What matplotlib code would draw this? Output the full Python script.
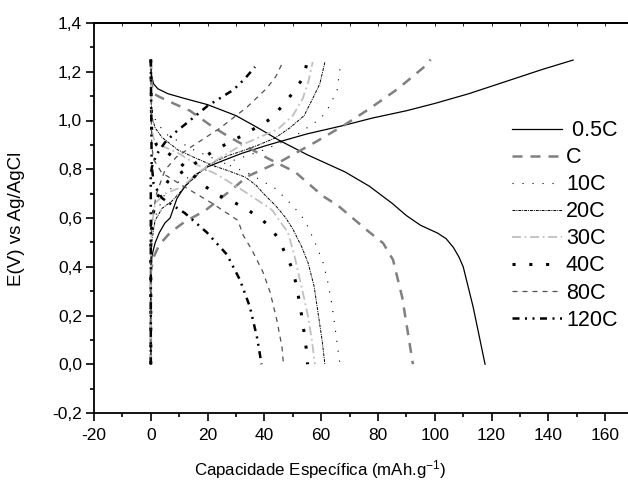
import matplotlib
matplotlib.use('Agg')
import matplotlib.pyplot as plt
from matplotlib.ticker import MultipleLocator, FuncFormatter

# discharge curves (start at 1.25 V) and charge curves (start at 0 V)
labels = [' 0.5C', 'C', '10C', '20C', '30C', '40C', '80C', '120C']

dis_05_x = [0, 0.3, 1, 2.5, 6, 12, 20, 30, 37.7, 45, 55, 68.4, 77, 85, 90, 95, 101, 104, 106.5, 108.5, 110, 113.5, 117.7]
dis_05_y = [1.25, 1.18, 1.15, 1.13, 1.11, 1.09, 1.065, 1.02, 0.97, 0.92, 0.86, 0.789, 0.73, 0.66, 0.61, 0.57, 0.538, 0.515, 0.48, 0.44, 0.40, 0.235, 0.0]
chg_05_x = [0, 0, 0.5, 1.5, 3, 5, 6.8, 9.2, 12, 15.6, 20, 26, 32, 40, 45, 55, 68, 78, 90, 100, 112, 125, 138, 148.7]
chg_05_y = [0, 0.40, 0.45, 0.497, 0.54, 0.58, 0.60, 0.68, 0.73, 0.776, 0.81, 0.838, 0.865, 0.895, 0.912, 0.945, 0.98, 1.01, 1.04, 1.07, 1.11, 1.16, 1.21, 1.248]

dis_1_x = [0, 0.3, 1, 3.2, 8, 13.8, 21.9, 28, 37.7, 42, 50.8, 60.6, 66, 76.1, 81.8, 85.3, 88.5, 92.3]
dis_1_y = [1.25, 1.15, 1.11, 1.096, 1.07, 1.04, 0.973, 0.93, 0.867, 0.84, 0.789, 0.69, 0.65, 0.55, 0.497, 0.428, 0.276, 0.0]
chg_1_x = [0, 0, 1, 3, 6.8, 12, 19.1, 29.6, 33.9, 44.4, 46.2, 58.5, 68, 77.2, 87, 97.3, 98.5]
chg_1_y = [0, 0.38, 0.44, 0.49, 0.54, 0.585, 0.63, 0.727, 0.77, 0.826, 0.835, 0.915, 0.98, 1.05, 1.13, 1.23, 1.25]

dis_10_x = [0, 0.3, 2, 6, 15, 25, 35, 44, 50, 54.3, 57.1, 58.9, 60.6, 62.4, 63.8, 64.9, 66, 66.6]
dis_10_y = [1.25, 1.05, 0.99, 0.94, 0.88, 0.83, 0.78, 0.72, 0.65, 0.59, 0.518, 0.469, 0.42, 0.333, 0.243, 0.149, 0.05, 0.0]
chg_10_x = [0, 0, 0.5, 2, 5, 10, 20, 30, 40, 50, 55, 60, 63, 65.6, 66.6]
chg_10_y = [0, 0.45, 0.52, 0.62, 0.70, 0.75, 0.80, 0.84, 0.88, 0.93, 0.97, 1.01, 1.06, 1.125, 1.21]

dis_20_x = [0, 0.3, 1.5, 4, 9.6, 15, 21.5, 27, 33.2, 37, 40.2, 44, 47.3, 50, 53.2, 55.4, 57.5, 58.9, 60.3, 61.3]
dis_20_y = [1.25, 1.02, 0.97, 0.93, 0.879, 0.85, 0.817, 0.795, 0.768, 0.735, 0.694, 0.65, 0.604, 0.555, 0.48, 0.415, 0.32, 0.21, 0.10, 0.0]
chg_20_x = [0, 0, 0.5, 1.5, 4, 7.5, 13, 20.1, 27, 33.2, 38, 43.7, 49, 54, 57, 59.5, 61.3]
chg_20_y = [0, 0.45, 0.52, 0.59, 0.64, 0.67, 0.74, 0.817, 0.855, 0.879, 0.90, 0.928, 0.97, 1.02, 1.09, 1.15, 1.24]

dis_30_x = [0, 0.3, 1.5, 5, 9.6, 16, 23.7, 28, 33.2, 38, 42.7, 48.3, 50.5, 52.5, 54, 55.4, 56.7, 57.8]
dis_30_y = [1.25, 0.96, 0.907, 0.89, 0.867, 0.82, 0.776, 0.745, 0.707, 0.67, 0.633, 0.54, 0.45, 0.346, 0.27, 0.194, 0.10, 0.0]
chg_30_x = [0, 0, 0.5, 1.5, 5, 11, 16, 21.5, 27, 32.1, 38, 44.8, 50, 53.5, 55.5, 57]
chg_30_y = [0, 0.48, 0.58, 0.66, 0.70, 0.727, 0.78, 0.826, 0.865, 0.90, 0.93, 0.965, 1.02, 1.09, 1.16, 1.24]

dis_40_x = [0, 0.3, 2, 8.5, 13.1, 18, 22.6, 30, 37.4, 41.3, 44.8, 47.3, 49.7, 51.1, 52.2, 53.2, 54, 54.7, 55.2]
dis_40_y = [1.25, 0.95, 0.90, 0.846, 0.797, 0.74, 0.70, 0.66, 0.61, 0.571, 0.518, 0.456, 0.395, 0.333, 0.264, 0.194, 0.128, 0.067, 0.0]
chg_40_x = [0, 0, 0.5, 2, 6, 13.8, 22.6, 32.5, 42.7, 50, 53.6, 55]
chg_40_y = [0, 0.5, 0.6, 0.68, 0.75, 0.81, 0.879, 0.94, 1.01, 1.113, 1.174, 1.236]

dis_80_x = [0, 0.3, 1, 3.9, 12, 21.5, 30.7, 32.5, 35.6, 39.5, 42, 44.4, 46.2, 46.7]
dis_80_y = [1.25, 0.9, 0.84, 0.785, 0.727, 0.661, 0.59, 0.53, 0.469, 0.378, 0.296, 0.18, 0.07, 0.0]
chg_80_x = [0, 0, 0.5, 2, 5, 9, 14, 24.4, 33.9, 40.9, 44, 46.5]
chg_80_y = [0, 0.5, 0.6, 0.7, 0.797, 0.85, 0.89, 0.969, 1.055, 1.133, 1.18, 1.24]

dis_120_x = [0, 0.3, 1, 3.9, 8, 12, 19.8, 26.8, 31.4, 34.9, 37.4, 39]
dis_120_y = [1.25, 0.82, 0.74, 0.682, 0.65, 0.62, 0.54, 0.45, 0.346, 0.235, 0.11, 0.0]
chg_120_x = [0, 0, 0.4, 2, 5, 8.5, 12.7, 20, 29, 33, 36.7]
chg_120_y = [0, 0.78, 0.81, 0.86, 0.91, 0.95, 0.99, 1.06, 1.125, 1.17, 1.22]

discharge = [(dis_05_x, dis_05_y), (dis_1_x, dis_1_y), (dis_10_x, dis_10_y), (dis_20_x, dis_20_y),
             (dis_30_x, dis_30_y), (dis_40_x, dis_40_y), (dis_80_x, dis_80_y), (dis_120_x, dis_120_y)]
charge = [(chg_05_x, chg_05_y), (chg_1_x, chg_1_y), (chg_10_x, chg_10_y), (chg_20_x, chg_20_y),
          (chg_30_x, chg_30_y), (chg_40_x, chg_40_y), (chg_80_x, chg_80_y), (chg_120_x, chg_120_y)]

styles = [
    dict(color='black', lw=0.9, ls='-'),
    dict(color='#808080', lw=1.8, ls=(0, (4, 3.2))),
    dict(color='black', lw=0.8, ls=(0, (1, 8))),
    dict(color='black', lw=0.7, ls=(0, (3, 1, 1, 1))),
    dict(color='#c0c0c0', lw=1.3, ls=(0, (5, 2, 1, 2))),
    dict(color='black', lw=2.2, ls=(0, (1, 4.5))),
    dict(color='#505050', lw=0.9, ls=(0, (4, 4))),
    dict(color='black', lw=1.8, ls=(0, (2.8, 2.2, 0.8, 2.2, 0.8, 2.2))),
]

plt.rcParams['font.family'] = ['Liberation Sans', 'DejaVu Sans']
plt.rcParams['axes.unicode_minus'] = False
plt.rcParams['mathtext.fontset'] = 'custom'
plt.rcParams['mathtext.rm'] = 'Liberation Sans'
plt.rcParams['mathtext.default'] = 'regular'

fig = plt.figure(figsize=(6.28, 4.84), dpi=100)
ax = fig.add_axes([94/628, 71/484, 539.6/628, 390/484])

for i in range(len(labels)):
    ax.plot(*discharge[i], label=labels[i], **styles[i])
    ax.plot(*charge[i], **styles[i])

ax.set_xlim(-20, 170)
ax.set_ylim(-0.2, 1.4)
ax.xaxis.set_major_locator(MultipleLocator(20))
ax.xaxis.set_minor_locator(MultipleLocator(10))
ax.yaxis.set_major_locator(MultipleLocator(0.2))
ax.yaxis.set_minor_locator(MultipleLocator(0.1))
ax.yaxis.set_major_formatter(FuncFormatter(lambda v, p: ('%.1f' % v).replace('.', ',').replace('-0,0', '0,0')))
ax.tick_params(axis='both', which='major', direction='out', length=5.5, width=1.2, labelsize=12.5)
ax.tick_params(axis='both', which='minor', direction='out', length=3, width=1.2)
ax.tick_params(axis='x', which='major', pad=5)
ax.tick_params(axis='y', which='major', pad=3)
for sp in ['left', 'bottom', 'top']:
    ax.spines[sp].set_linewidth(1.3)
ax.spines['right'].set_visible(False)
sec = ax.secondary_xaxis('top')
sec.xaxis.set_major_locator(MultipleLocator(10))
sec.tick_params(which='major', direction='in', length=2, width=0.6, labeltop=False)
sec.spines['top'].set_linewidth(1.3)

fig.text(320/628, 14/484, 'Capacidade Específica (mAh.g$^{-1}$)', fontsize=12.2, ha='center', va='center')
fig.text(17/628, 265/484, 'E(V) vs Ag/AgCl', fontsize=13.5, ha='center', va='center', rotation=90)

ax.legend(loc='upper left', bbox_to_anchor=(0.755, 0.778), frameon=False, fontsize=15.5,
          handlelength=2.3, handletextpad=0.2, labelspacing=0.28, borderpad=0)

fig.savefig('out.png', dpi=100)
